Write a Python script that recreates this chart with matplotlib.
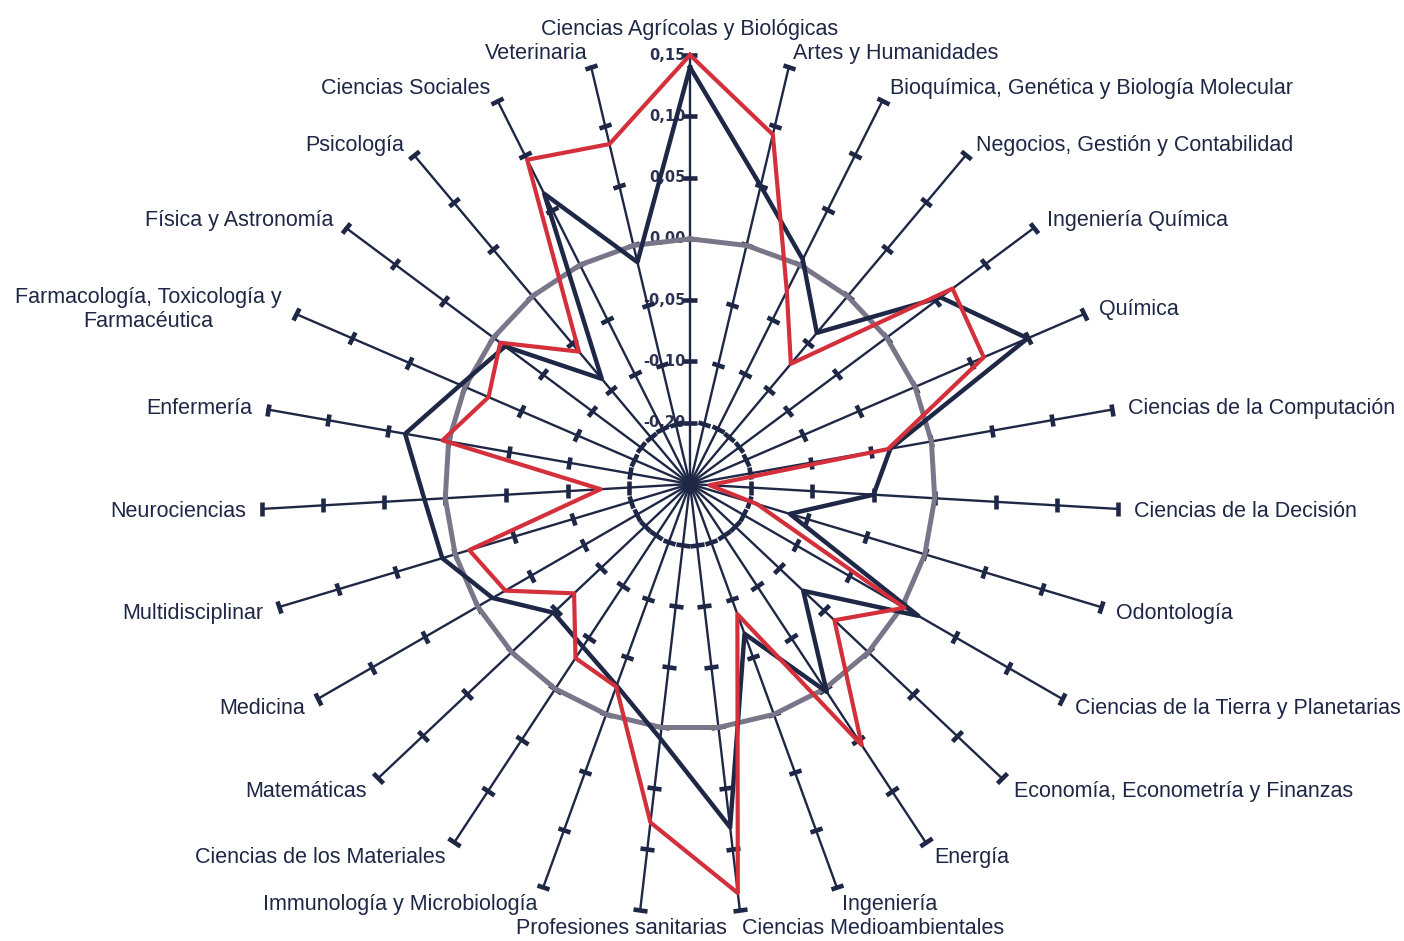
import numpy as np
import matplotlib.pyplot as plt
from matplotlib.markers import MarkerStyle
from matplotlib.transforms import Affine2D

# Categorías en sentido horario desde arriba
categorias = [
    "Ciencias Agrícolas y Biológicas",
    "Artes y Humanidades",
    "Bioquímica, Genética y Biología Molecular",
    "Negocios, Gestión y Contabilidad",
    "Ingeniería Química",
    "Química",
    "Ciencias de la Computación",
    "Ciencias de la Decisión",
    "Odontología",
    "Ciencias de la Tierra y Planetarias",
    "Economía, Econometría y Finanzas",
    "Energía",
    "Ingeniería",
    "Ciencias Medioambientales",
    "Profesiones sanitarias",
    "Immunología y Microbiología",
    "Ciencias de los Materiales",
    "Matemáticas",
    "Medicina",
    "Multidisciplinar",
    "Neurociencias",
    "Enfermería",
    "Farmacología, Toxicología y\nFarmacéutica",
    "Física y Astronomía",
    "Psicología",
    "Ciencias Sociales",
    "Veterinaria",
]

serie_azul = [0.140, 0.050, 0.005, -0.039, 0.055, 0.100, -0.034, -0.050, -0.115,
              0.015, -0.073, 0.003, -0.070, 0.082, 0.009, -0.025, -0.041, -0.047,
              -0.014, 0.011, 0.017, 0.036, 0.004, -0.012, -0.088, 0.065, -0.014]

serie_roja = [0.150, 0.093, -0.024, -0.072, 0.067, 0.061, -0.036, -0.184, -0.143,
              0.002, -0.038, 0.055, -0.087, 0.136, 0.078, -0.024, -0.030, -0.070,
              -0.026, -0.012, -0.127, 0.005, -0.021, -0.007, -0.059, 0.096, 0.085]

referencia = [0.0] * len(categorias)

niveles = [-0.15, -0.10, -0.05, 0.00, 0.05, 0.10, 0.15]
etiquetas_niveles = ["-0,20", "-0,10", "-0,05", "0,00", "0,05", "0,10", "0,15"]

NAVY = "#1e2745"
RED = "#d3303b"
GREY = "#7a7689"

plt.rcParams["font.family"] = ["Liberation Sans", "DejaVu Sans"]

n = len(categorias)
theta = np.arange(n) * 2 * np.pi / n
theta_c = np.append(theta, theta[0])


def cerrar(v):
    return np.append(v, v[0])


fig = plt.figure(figsize=(14.04, 9.41), dpi=100)
ax = fig.add_axes([261 / 1404, 28 / 941, 858 / 1404, 858 / 941], projection="polar")
ax.set_theta_zero_location("N")
ax.set_theta_direction(-1)
ax.set_ylim(-0.20, 0.15)
ax.axis("off")

# ejes radiales con marcas
for t in theta:
    ax.plot([t, t], [-0.20, 0.15], color=NAVY, lw=1.7, zorder=2, clip_on=False)
    m = MarkerStyle("_", transform=Affine2D().rotate_deg(-np.degrees(t)))
    ax.plot([t] * len(niveles), niveles, ls="none", marker=m, ms=9.5, mew=3.3,
            color=NAVY, zorder=2, clip_on=False)

# valores del eje sobre el radio superior
for r, lab in zip(niveles, etiquetas_niveles):
    ax.annotate(lab, xy=(0, r), xytext=(-3.5, 0), textcoords="offset points",
                ha="right", va="center", fontsize=10.5, fontweight="bold",
                color="#2c3150", family="DejaVu Sans", zorder=1)

ax.plot(theta_c, cerrar(referencia), color=GREY, lw=3.6, zorder=3, clip_on=False)
ax.plot(theta_c, cerrar(serie_azul), color=NAVY, lw=3.2, zorder=4, clip_on=False)
ax.plot(theta_c, cerrar(serie_roja), color=RED, lw=3.0, zorder=5, clip_on=False)

# etiquetas de categorías
extra = {14: (64, 0)}
for i, (t, lab) in enumerate(zip(theta, categorias)):
    sx, cy = np.sin(t), np.cos(t)
    if abs(sx) < 0.05:
        ha = "center"
        pad = 20
    else:
        ha = "left" if sx > 0 else "right"
        pad = 11.5
    dx, dy = sx * pad, cy * pad - 1.5
    ex = extra.get(i, (0, 0))
    ax.annotate(lab, xy=(t, 0.15), xytext=(dx + ex[0], dy + ex[1]),
                textcoords="offset points", ha=ha, va="center",
                multialignment="center", fontsize=15.5, color=NAVY,
                linespacing=1.2, annotation_clip=False)

fig.savefig("out.png", dpi=100)
